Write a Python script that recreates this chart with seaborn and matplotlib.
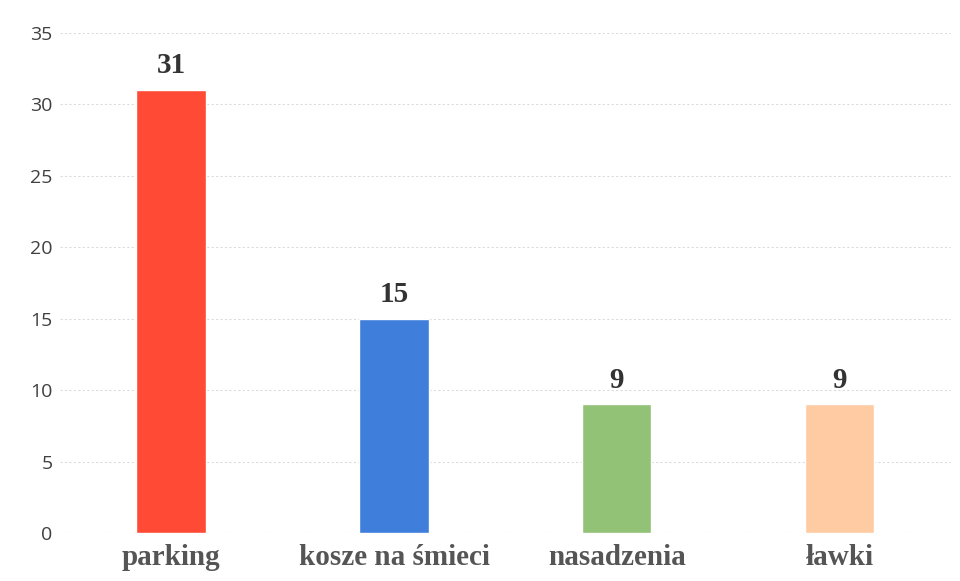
import pandas as pd
import matplotlib.pyplot as plt
import seaborn as sb

categories = ["parking", "kosze na śmieci", "nasadzenia", "ławki"]
values = [31, 15, 9, 9]
bar_colors = ["#FF4A35", "#3F7EDB", "#92C275", "#FFCBA3"]

df = pd.DataFrame({"kategoria": categories, "liczba": values})

sb.set_style("white")
fig = plt.figure(figsize=(9.6, 5.81), dpi=100)
ax = fig.add_axes([0.062, 0.0826, 0.929, 0.8606])

sb.barplot(data=df, x="kategoria", y="liczba", hue="kategoria", palette=bar_colors,
           width=0.31, legend=False, ax=ax, saturation=1)

# wartości nad słupkami
for i, v in enumerate(values):
    ax.text(i, v + 0.75, str(v), ha="center", va="bottom", fontsize=21,
            fontweight="bold", family="Liberation Serif", color="#333333")

ax.set_ylim(0, 35)
ax.set_xlim(-0.5, 3.5)
ax.set_yticks(range(0, 36, 5))
ax.grid(axis="y", color="#dcdcdc", linestyle=(0, (2, 2)), linewidth=0.8)
ax.set_axisbelow(True)
for s in ax.spines.values():
    s.set_visible(False)
ax.set_xlabel("")
ax.set_ylabel("")
ax.tick_params(axis="y", length=0, labelsize=14, labelcolor="#404040", pad=5)
ax.tick_params(axis="x", length=0, pad=8)
for lab in ax.get_yticklabels():
    lab.set_family("Open Sans")
for lab in ax.get_xticklabels():
    lab.set_family("Liberation Serif")
    lab.set_fontweight("bold")
    lab.set_fontsize(21)
    lab.set_color("#555555")

plt.savefig("out.png", dpi=100)
